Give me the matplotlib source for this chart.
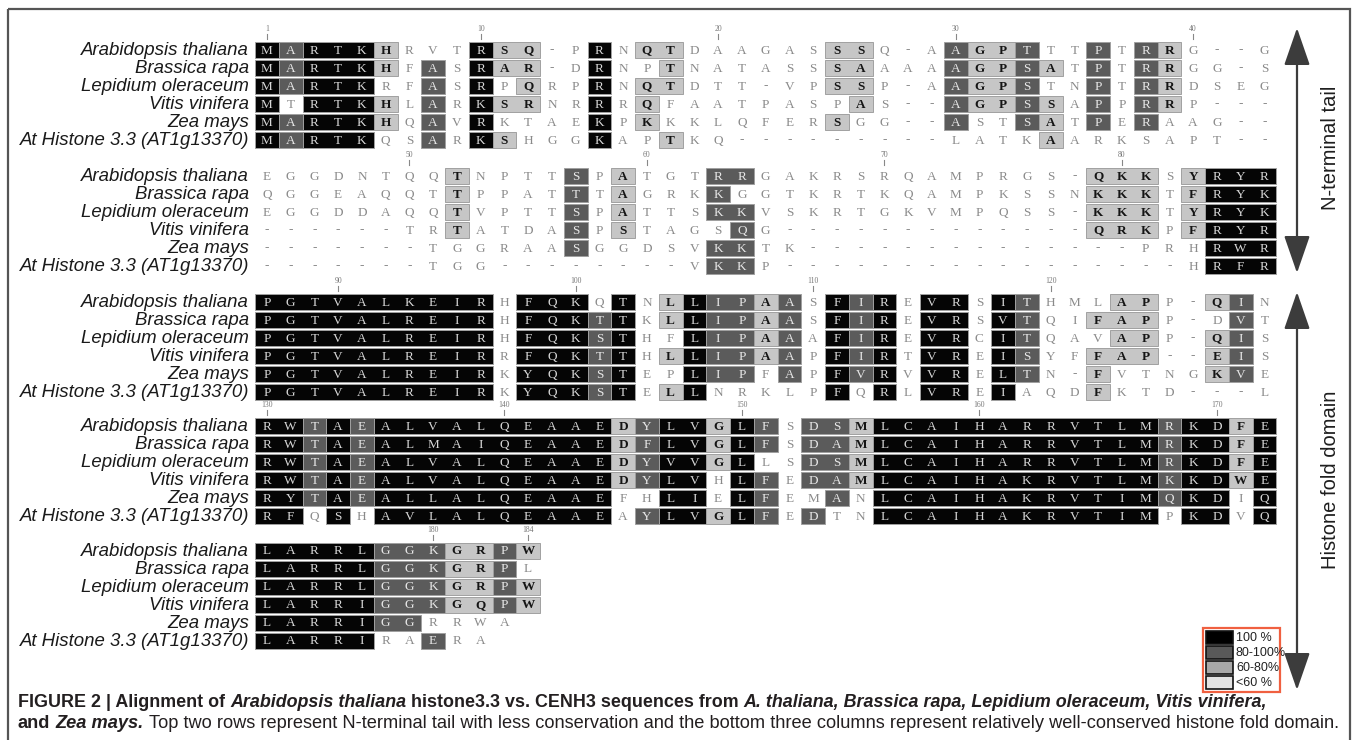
import matplotlib
matplotlib.use("Agg")
import matplotlib.pyplot as plt
from matplotlib.patches import Rectangle
from matplotlib import font_manager as fm

# ---------------- data ----------------
species = ["Arabidopsis thaliana", "Brassica rapa", "Lepidium oleraceum",
           "Vitis vinifera", "Zea mays", "At Histone 3.3 (AT1g13370)"]

block_starts = [1, 44, 87, 130, 173]

seq_block1 = ["MARTKHRVTRSQ-PRNQTDAAGASSSQ-AAGPTTTPTRRG--G",
              "MARTKHFASRAR-DRNPTNATASSSAAAAAGPSATPTRRGG-S",
              "MARTKRFASRPQRPRNQTDTT-VPSSP-AAGPSTNPTRRDSEG",
              "MTRTKHLARKSRNRRRQFAATPASPAS--AGPSSAPPRRP---",
              "MARTKHQAVRKTAEKPKKKLQFERSGG--ASTSATPERAAG--",
              "MARTKQSARKSHGGKAPTKQ---------LATKAARKSAPT--"]
shade_block1 = ["BDBBBL...B" "LL..B.LL.." "....LL...D" "LLD..D.DL." "...",
                "BDBBBL.D.B" "LL..B..L.." "....LL...D" "LLDL.D.DL." "...",
                "BDBBB..D.B" ".L..B.LL.." "....LL...D" "LLD..D.DL." "...",
                "B.BBBL.D.B" "LL..B.L..." ".....L...D" "LLDL.D.DL." "...",
                "BDBBBL.D.B" "....B.L..." "....L....D" "..DL.D.D.." "...",
                "BDBBB..D.B" "L...B..L.." ".........." "...L......" "..."]

seq_block2 = ["EGGDNTQQTNPTTSPATGTRRGAKRSRQAMPRGS-QKKSYRYR",
              "QGGEAQQTTPPATTTAGRKKGGTKRTKQAMPKSSNKKKTFRYK",
              "EGGDDAQQTVPTTSPATTSKKVSKRTGKVMPQSS-KKKTYRYK",
              "------TRTATDASPSTAGSQG-------------QRKPFRYR",
              "-------TGGRAASGGDSVKKTK--------------PRHRWR",
              "-------TGG--------VKKP-----------------HRFR"]
shade_block2 = ["........L." "...D.L...D" "D........." ".....LLL.L" "BBB",
                "........L." "...D.L...D" ".........." ".....LLL.L" "BBB",
                "........L." "...D.L...D" "D........." ".....LLL.L" "BBB",
                "........L." "...D.L...." "D........." ".....LLL.L" "BBB",
                ".........." "...D.....D" "D........." ".........." "BBB",
                ".........." ".........D" "D........." ".........." "BBB"]

seq_block3 = ["PGTVALKEIRHFQKQTNLLIPAASFIREVRSITHMLAPP-QIN",
              "PGTVALREIRHFQKTTKLLIPAASFIREVRSVTQIFAPP-DVT",
              "PGTVALREIRHFQKSTHFLIPAAAFIREVRCITQAVAPP-QIS",
              "PGTVALREIRRFQKTTHLLIPAAPFIRTVREISYFFAP--EIS",
              "PGTVALREIRKYQKSTEPLIPFAPFVRVVRELTN-FVTNGKVE",
              "PGTVALREIRKYQKSTELLNRKLPFQRLVREIAQDFKTD---L"]
shade_block3 = ["BBBBBBBBBB" ".BBB.B.LBD" "DLD.BDB.BB" ".BD...LL.." "LD.",
                "BBBBBBBBBB" ".BBBDB.LBD" "DLD.BDB.BB" ".BD..LLL.." ".D.",
                "BBBBBBBBBB" ".BBBDB..BD" "DLD.BDB.BB" ".BD...LL.." "LD.",
                "BBBBBBBBBB" ".BBBDB.LBD" "DLD.BDB.BB" ".BD..LLL.." "LD.",
                "BBBBBBBBBB" ".BBBDB..BD" "D.D.BDB.BB" ".BD..L...." "LD.",
                "BBBBBBBBBB" ".BBBDB.LB." "....B.B.BB" ".B...L...." "..."]

seq_block4 = ["RWTAEALVALQEAAEDYLVGLFSDSMLCAIHARRVTLMRKDFE",
              "RWTAEALMAIQEAAEDFLVGLFSDAMLCAIHARRVTLMRKDFE",
              "RWTAEALVALQEAAEDYVVGLLSDSMLCAIHARRVTLMRKDFE",
              "RWTAEALVALQEAAEDYLVHLFEDAMLCAIHAKRVTLMKKDWE",
              "RYTAEALLALQEAAEFHLIELFEMANLCAIHAKRVTIMQKDIQ",
              "RFQSHAVLALQEAAEAYLVGLFEDTNLCAIHAKRVTIMPKDVQ"]
shade_block4 = ["BBDBDBBBBB" "BBBBBLDBBL" "BD.DDLBBBB" "BBBBBBBBDB" "BLB",
                "BBDBDBBBBB" "BBBBBLDBBL" "BD.DDLBBBB" "BBBBBBBBDB" "BLB",
                "BBDBDBBBBB" "BBBBBLDBBL" "B..DDLBBBB" "BBBBBBBBDB" "BLB",
                "BBDBDBBBBB" "BBBBBLDBB." "BD.DDLBBBB" "BBBBBBBBDB" "BLB",
                "BBDBDBBBBB" "BBBBB..BB." "BD..D.BBBB" "BBBBBBBBDB" "B.B",
                "BB.B.BBBBB" "BBBBB.DBBL" "BD.D..BBBB" "BBBBBBBB.B" "B.B"]

seq_block5 = ["LARRLGGKGRPW", "LARRLGGKGRPL", "LARRLGGKGRPW",
              "LARRIGGKGQPW", "LARRIGGRRWA", "LARRIRAERA"]
shade_block5 = ["BBBBBDDDLLDL", "BBBBBDDDLLD.", "BBBBBDDDLLDL",
                "BBBBBDDDLLDL", "BBBBBDD....", "BBBBB..D.."]

position_ticks = [[1, 10, 20, 30, 40], [50, 60, 70, 80], [90, 100, 110, 120],
                  [130, 140, 150, 160, 170], [180, 184]]

legend_labels = ["100 %", "80-100%", "60-80%", "<60 %"]
domain_labels = ["N-terminal tail", "Histone fold domain"]

caption_line1 = [("FIGURE 2 | Alignment of", "bold", "normal"),
                 ("Arabidopsis thaliana", "bold", "italic"),
                 ("histone3.3 vs. CENH3 sequences from", "bold", "normal"),
                 ("A. thaliana, Brassica rapa, Lepidium oleraceum, Vitis vinifera,", "bold", "italic")]
caption_line2 = [("and", "bold", "normal"),
                 ("Zea mays.", "bold", "italic"),
                 ("Top two rows represent N-terminal tail with less conservation and the bottom three "
                  "columns represent relatively well-conserved histone fold domain.", "normal", "normal")]

blocks = [(seq_block1, shade_block1), (seq_block2, shade_block2), (seq_block3, shade_block3),
          (seq_block4, shade_block4), (seq_block5, shade_block5)]

# ---------------- style / layout ----------------
W, H = 1357, 740
block_tops = [50, 176, 302, 426, 551]
row_pitch = 18.0
cell_h = 16.0
x0 = 255.0
cw = 23.75

face = {"B": "#050505", "D": "#5b5b5b", "L": "#c6c6c6"}
txtcol = {"B": "#d8d8d8", "D": "#e8e8e8", "L": "#151515", ".": "#8a8a8a"}
txtweight = {"B": "normal", "D": "normal", "L": "bold", ".": "normal"}


def has_font(name):
    try:
        fm.findfont(fm.FontProperties(family=name), fallback_to_default=False)
        return True
    except Exception:
        return False


sans = "Liberation Sans" if has_font("Liberation Sans") else "DejaVu Sans"
narrow = "Liberation Sans Narrow" if has_font("Liberation Sans Narrow") else sans
letter_font = "Liberation Serif" if has_font("Liberation Serif") else "DejaVu Serif"
mono = "Liberation Mono" if has_font("Liberation Mono") else "DejaVu Sans Mono"

fig = plt.figure(figsize=(W / 100, H / 100), dpi=100)
ax = fig.add_axes([0, 0, 1, 1])
ax.set_xlim(0, W)
ax.set_ylim(H, 0)
ax.axis("off")

# outer frame
ax.add_patch(Rectangle((8, 9), 1342, 745, fill=False, edgecolor="#555555", lw=1.6, clip_on=False))

for b, (seqs, shades) in enumerate(blocks):
    top = block_tops[b]
    for r, (seq, sh) in enumerate(zip(seqs, shades)):
        yc = top + r * row_pitch
        ax.text(249, yc + 0.5, species[r], ha="right", va="center", fontsize=13.4,
                fontstyle="italic", family=narrow, color="#1a1a1a")
        n = len(seq)
        sh = (sh + "." * n)[:n]
        i = 0
        while i < n:
            j = i
            while j + 1 < n and sh[j + 1] == sh[i]:
                j += 1
            if sh[i] in face:
                ax.add_patch(Rectangle((x0 + i * cw, yc - cell_h / 2), (j - i + 1) * cw, cell_h,
                                       facecolor=face[sh[i]], edgecolor="#a0a0a0", lw=0.7))
            i = j + 1
        for i, ch in enumerate(seq):
            s = sh[i]
            ax.text(x0 + (i + 0.5) * cw, yc + 0.5, ch, ha="center", va="center",
                    fontsize=9.5, family=letter_font, color=txtcol[s], fontweight=txtweight[s])
    for p in position_ticks[b]:
        cx = x0 + (p - block_starts[b] + 0.5) * cw
        ax.text(cx, top - 17, str(p), ha="center", va="bottom", fontsize=5.5,
                family=letter_font, color="#777777")
        ax.plot([cx, cx], [top - 16.5, top - 11], color="#888888", lw=0.8)

# domain arrows
arrow_x = 1297
for (ya, yb), lab, ly in zip([(28, 273), (292, 690)], domain_labels, [148, 480]):
    ax.annotate("", xy=(arrow_x, ya), xytext=(arrow_x, yb),
                arrowprops=dict(arrowstyle="<|-|>,head_length=1.3,head_width=0.45",
                                color="#3c3c3c", lw=1.6, mutation_scale=18, shrinkA=0, shrinkB=0))
    ax.text(1331, ly, lab, rotation=90, ha="center", va="center", fontsize=14.5,
            family=sans, color="#1e1e1e")

# legend
lx, ly0, lw_, lh = 1203, 628, 77, 64
ax.add_patch(Rectangle((lx, ly0), lw_, lh, fill=False, edgecolor="#f06040", lw=1.6))
for k, (lab, col) in enumerate(zip(legend_labels, ["#000000", "#595959", "#a8a8a8", "#e2e2e2"])):
    yy = ly0 + 3 + k * 15
    ax.add_patch(Rectangle((lx + 3, yy), 27, 13, facecolor=col, edgecolor="#111111", lw=1.2))
    ax.text(lx + 33, yy + 7, lab, ha="left", va="center", fontsize=9, family=sans, color="#222222")

# caption
fig.canvas.draw()
renderer = fig.canvas.get_renderer()


def draw_line(segs, x, y, size):
    arts = []
    probe1 = ax.text(0, 0, "a a", fontsize=size, family=narrow, fontweight="bold")
    probe2 = ax.text(0, 0, "aa", fontsize=size, family=narrow, fontweight="bold")
    sp = probe1.get_window_extent(renderer).width - probe2.get_window_extent(renderer).width
    probe1.remove()
    probe2.remove()
    cx = x
    for k, (t, wgt, st) in enumerate(segs):
        if k > 0:
            cx += sp
        a = ax.text(cx, y, t, ha="left", va="baseline", fontsize=size, family=narrow,
                    fontweight=wgt, fontstyle=st, color="#231f20")
        cx += a.get_window_extent(renderer).width
        arts.append(a)
    return arts, cx - x


def fit_line(segs, x, y, right):
    arts, wid = draw_line(segs, x, y, 12)
    for a in arts:
        a.remove()
    draw_line(segs, x, y, 12 * (right - x) / wid)


fit_line(caption_line1, 18, 707, 1256)
fit_line(caption_line2, 18, 728, 1344)

fig.savefig("out.png", dpi=100, facecolor="white")
